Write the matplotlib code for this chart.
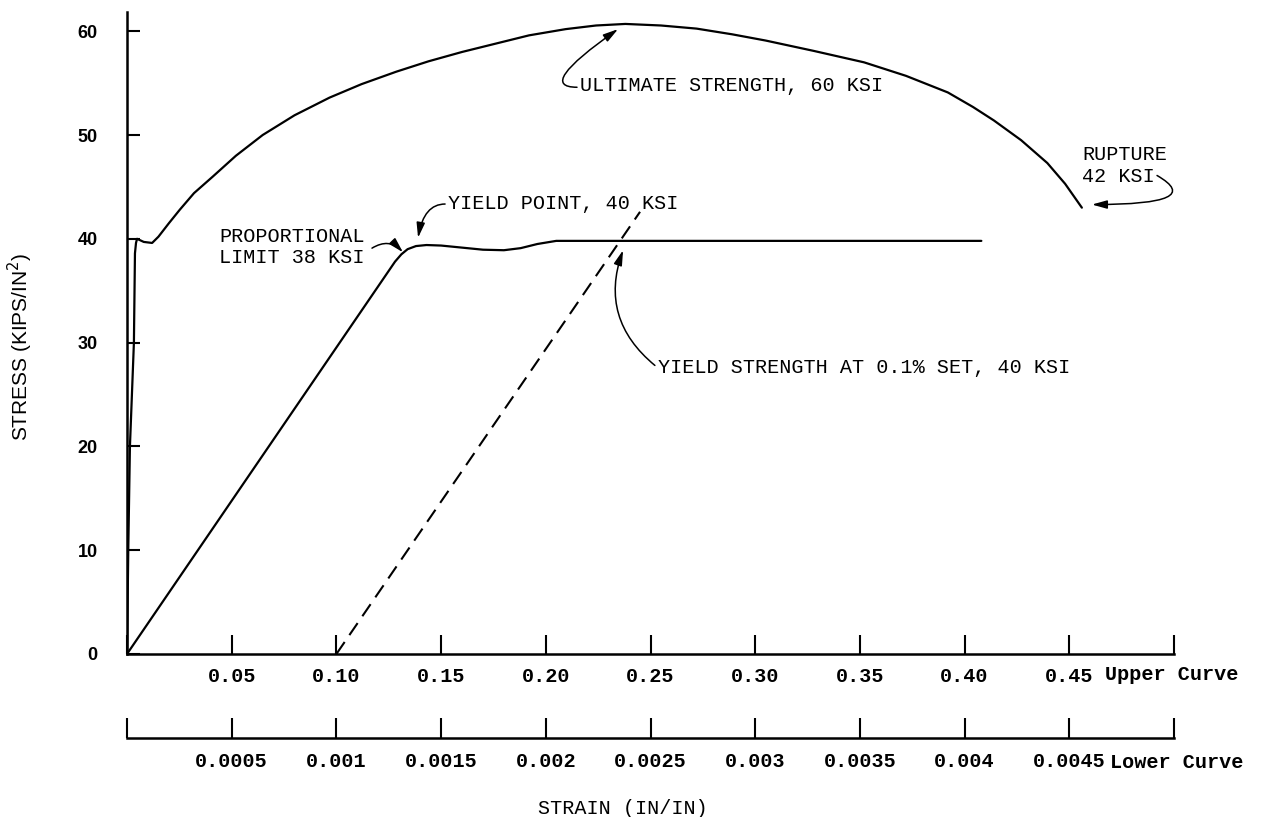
import matplotlib
matplotlib.use('Agg')
import matplotlib.pyplot as plt

# upper curve, strain read on the 0 - 0.5 scale
upper_strain = [0, 0.0006, 0.0014, 0.0033, 0.0038, 0.0043, 0.0048, 0.008, 0.012, 0.015,
                0.020, 0.0252, 0.032, 0.041, 0.052, 0.0648, 0.080, 0.0967, 0.112,
                0.1286, 0.144, 0.160, 0.178, 0.192, 0.2095, 0.224, 0.238, 0.255,
                0.272, 0.289, 0.305, 0.328, 0.352, 0.372, 0.392, 0.404, 0.414,
                0.427, 0.4395, 0.448, 0.456]
upper_stress = [0, 10, 20, 30, 38.6, 39.6, 40.0, 39.7, 39.6, 40.2,
                41.5, 42.8, 44.4, 46.0, 48.0, 50.0, 51.9, 53.6, 54.9,
                56.1, 57.1, 58.0, 58.9, 59.6, 60.2, 60.55, 60.7, 60.55,
                60.25, 59.7, 59.1, 58.1, 57.0, 55.7, 54.1, 52.7, 51.4,
                49.5, 47.3, 45.3, 43.0]

# lower curve, strain read on the 0 - 0.005 scale
lower_strain = [0, 0.00128, 0.00131, 0.00134, 0.00138, 0.00143, 0.00150, 0.00160, 0.00170,
                0.00180, 0.00188, 0.00196, 0.00205, 0.00408]
lower_stress = [0, 37.8, 38.5, 39.0, 39.3, 39.4, 39.35, 39.15, 38.95,
                38.9, 39.1, 39.5, 39.8, 39.8]

# 0.1% offset line
offset_strain = [0.001, 0.00245]
offset_stress = [0, 42.6]

upper_ticks = [0, 0.05, 0.10, 0.15, 0.20, 0.25, 0.30, 0.35, 0.40, 0.45, 0.50]
upper_labels = ['', '0.05', '0.10', '0.15', '0.20', '0.25', '0.30', '0.35', '0.40', '0.45', '']
lower_ticks = [0, 0.0005, 0.001, 0.0015, 0.002, 0.0025, 0.003, 0.0035, 0.004, 0.0045, 0.005]
lower_labels = ['', '0.0005', '0.001', '0.0015', '0.002', '0.0025', '0.003', '0.0035',
                '0.004', '0.0045', '']
stress_ticks = [0, 10, 20, 30, 40, 50, 60]

mono = ['Liberation Mono', 'DejaVu Sans Mono']
sans = ['Liberation Sans', 'DejaVu Sans']
fs = 14.5
W, H = 1264, 817

fig = plt.figure(figsize=(W / 100, H / 100), dpi=100)
ax = fig.add_axes([127 / W, 163 / H, 1047 / W, 642 / H])
ax.plot(upper_strain, upper_stress, color='black', lw=1.6,
        solid_joinstyle='round', solid_capstyle='round')
ax.set_xlim(0, 0.5)
ax.set_ylim(0, 61.85)

ax2 = ax.twiny()
ax2.set_xlim(0, 0.005)
ax2.plot(lower_strain, lower_stress, color='black', lw=1.6,
         solid_joinstyle='round', solid_capstyle='round')
ax2.plot(offset_strain, offset_stress, color='black', lw=1.5, dashes=(7, 4))

for s in ['top', 'right']:
    ax.spines[s].set_visible(False)
for s in ['top', 'right', 'left']:
    ax2.spines[s].set_visible(False)
for s in ['left', 'bottom']:
    ax.spines[s].set_linewidth(1.8)
ax2.spines['bottom'].set_linewidth(1.8)
ax2.spines['bottom'].set_position(('outward', 60.5))
ax2.xaxis.set_ticks_position('bottom')
ax2.xaxis.set_label_position('bottom')

ax.set_xticks(upper_ticks)
ax.set_xticklabels(upper_labels, fontfamily=mono, fontweight='bold', fontsize=fs)
ax.tick_params(axis='x', direction='in', length=14, width=1.5, pad=9)
ax2.set_xticks(lower_ticks)
ax2.set_xticklabels(lower_labels, fontfamily=mono, fontweight='bold', fontsize=fs)
ax2.tick_params(axis='x', direction='in', length=14.4, width=1.5, pad=10)
ax.set_yticks(stress_ticks)
ax.set_yticklabels([str(v) for v in stress_ticks], fontfamily=sans, fontweight='bold', fontsize=13)
ax.tick_params(axis='y', direction='in', length=9.5, width=1.5, pad=21)

fig.text(20 / W, 1 - 347 / H, 'STRESS (KIPS/IN$^2$)', rotation=90, ha='center', va='center',
         fontfamily=sans, fontsize=15)
fig.text(538 / W, 1 - 808 / H, 'STRAIN (IN/IN)', ha='left', va='center',
         fontfamily=mono, fontsize=fs)
fig.text(1105 / W, 1 - 674 / H, 'Upper Curve', ha='left', va='center',
         fontfamily=mono, fontweight='bold', fontsize=fs)
fig.text(1110 / W, 1 - 762 / H, 'Lower Curve', ha='left', va='center',
         fontfamily=mono, fontweight='bold', fontsize=fs)

def note(x, y, s):
    ax.text(x, y, s, ha='left', va='center', fontfamily=mono, fontsize=fs)

def arrow(start, tip, conn):
    ax.annotate('', xy=tip, xytext=start,
                arrowprops=dict(arrowstyle='-|>,head_length=0.9,head_width=0.25',
                                color='black', lw=1.1, shrinkA=0, shrinkB=0,
                                connectionstyle=conn))

note(0.2163, 54.8, 'ULTIMATE STRENGTH, 60 KSI')
arrow((0.2149, 54.6), (0.2345, 60.2), 'angle3,angleA=180,angleB=35')

note(0.4561, 48.1, 'RUPTURE')
note(0.4561, 46.0, '42 KSI')
arrow((0.4919, 46.1), (0.4608, 43.3), 'angle3,angleA=-30,angleB=0')

note(0.0439, 40.2, 'PROPORTIONAL')
note(0.0439, 38.2, 'LIMIT 38 KSI')
arrow((0.117, 39.1), (0.1318, 38.7), 'arc3,rad=-0.4')

note(0.1533, 43.4, 'YIELD POINT, 40 KSI')
arrow((0.1519, 43.35), (0.139, 40.1), 'angle3,angleA=180,angleB=80')

note(0.2536, 27.6, 'YIELD STRENGTH AT 0.1% SET, 40 KSI')
arrow((0.2521, 27.8), (0.2369, 38.9), 'arc3,rad=-0.35')

fig.savefig('out.png', dpi=100, facecolor='white')
